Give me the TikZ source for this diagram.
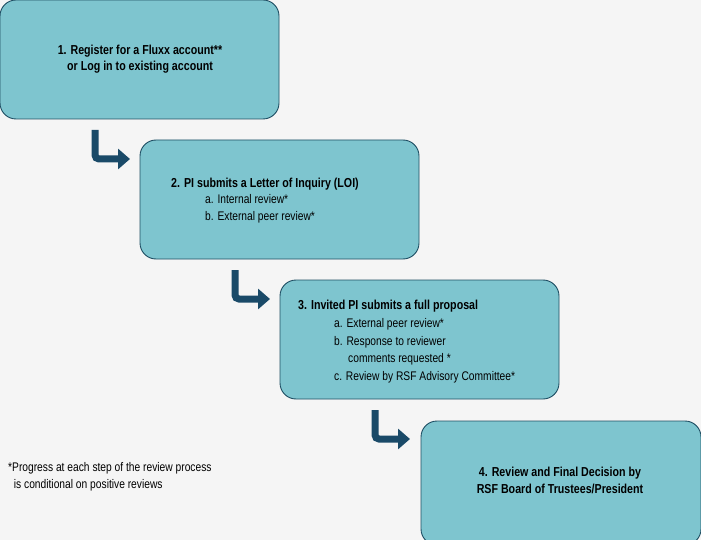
\documentclass[tikz,border=0pt]{standalone}
\usepackage{fontspec}
\setmainfont{Liberation Sans}[FakeStretch=0.82]
\usetikzlibrary{arrows.meta}
\definecolor{bg}{HTML}{F5F5F5}
\definecolor{boxfill}{HTML}{7EC5CF}
\definecolor{boxline}{HTML}{1E4E63}
\definecolor{arr}{HTML}{1A4A68}
\begin{document}
\begin{tikzpicture}[x=1pt,y=-1pt,
  stepbox/.style={draw=boxline,line width=0.9pt,fill=boxfill,rounded corners=16pt},
  bent/.style={draw=arr,line width=7pt,-{Triangle[length=12pt,width=20pt]}},
  t/.style={font=\fontsize{13}{15}\selectfont\bfseries,anchor=base west,inner sep=0},
  s/.style={font=\fontsize{12.5}{15}\selectfont,anchor=base west,inner sep=0}]
\fill[bg] (0,0) rectangle (701,540);
\useasboundingbox (0,0) rectangle (701,540);
\draw[stepbox] (0,0) rectangle (279,119);
\draw[stepbox] (140,140) rectangle (419,259);
\draw[stepbox] (280,280) rectangle (559,399);
\draw[stepbox] (421,421) rectangle (701,545);
\node[font=\fontsize{13}{16.5}\selectfont\bfseries,align=center] (b1) at (140,59) {1. Register for a Fluxx account**\\or Log in to existing account};
\node[t] (b2) at (171,188) {2. PI submits a Letter of Inquiry (LOI)};
\node[s] (b2a) at (205,204) {a. Internal review*};
\node[s] (b2b) at (205,221) {b. External peer review*};
\node[t] (b3) at (298,309) {3. Invited PI submits a full proposal};
\node[s] (b3a) at (334,327) {a. External peer review*};
\node[s] (b3b) at (334,345) {b. Response to reviewer};
\node[s] (b3b2) at (348,362) {comments requested *};
\node[s] (b3c) at (334,380) {c. Review by RSF Advisory Committee*};
\node[font=\fontsize{13}{17}\selectfont\bfseries,align=center] (b4) at (560,480) {4. Review and Final Decision by\\RSF Board of Trustees/President};
\node[s,font=\fontsize{12.5}{17.5}\selectfont,align=left,anchor=north west] (note) at (8,462) {*Progress at each step of the review process\\\ \ is conditional on positive reviews};
\coordinate (a1s) at (95,130); \coordinate (a1e) at (130,159);
\coordinate (a2s) at (235,270); \coordinate (a2e) at (270,299);
\coordinate (a3s) at (375,410); \coordinate (a3e) at (410,439);
\foreach \s/\e in {a1s/a1e,a2s/a2e,a3s/a3e}
  \draw[bent,rounded corners=4pt] (\s) |- (\e);
\end{tikzpicture}
\end{document}
